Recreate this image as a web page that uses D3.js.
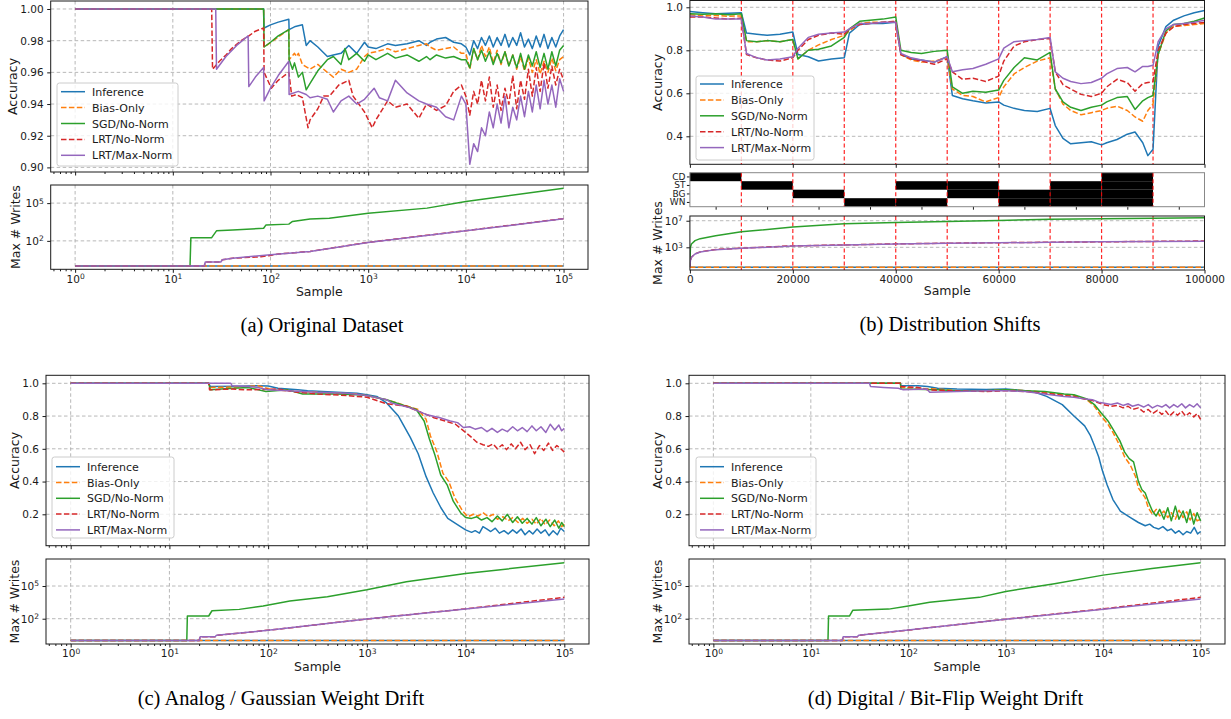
<!DOCTYPE html>
<html>
<head>
<meta charset="utf-8">
<script src="https://cdn.jsdelivr.net/npm/d3@7"></script>
<style>
  body { margin: 0; background: #fff; }
  svg { display: block; }
</style>
</head>
<body>
<script>
// ---- series definitions ----
const seriesNames = ["Inference", "Bias-Only", "SGD/No-Norm", "LRT/No-Norm", "LRT/Max-Norm"];
const seriesColors = ["#1f77b4", "#ff7f0e", "#2ca02c", "#d62728", "#9467bd"];
const seriesDash = [null, "5.5,2.4", null, "5.5,2.4", null];

// ---- (a) Original Dataset : accuracy [sample, acc] up to 10^4 ----
const aInference = [[1,1],[85,1],[86,0.988],[100,0.990],[120,0.9917],[154,0.9935],[155,0.987],[180,0.989],[212,0.990],[232,0.977],[254,0.980],[305,0.976],[382,0.970],[440,0.971],[527,0.972],[633,0.977],[762,0.972],[917,0.979],[1000,0.976],[1200,0.975],[1580,0.978],[1900,0.977],[2500,0.978],[3300,0.980],[3950,0.977],[4300,0.979],[5000,0.981],[6200,0.982],[7500,0.979],[9000,0.978]];
const aBias = [[1,1],[85,1],[86,0.976],[154,0.987],[155,0.968],[176,0.972],[184,0.970],[193,0.972],[212,0.965],[254,0.962],[305,0.965],[382,0.960],[440,0.957],[527,0.962],[633,0.960],[762,0.962],[917,0.970],[1000,0.972],[1200,0.973],[1580,0.975],[1900,0.973],[2500,0.975],[3300,0.977],[3950,0.978],[4300,0.976],[5000,0.974],[6200,0.975],[7500,0.976],[9000,0.972]];
const aSgd = [[1,1],[85,1],[86,0.976],[100,0.979],[120,0.983],[154,0.987],[155,0.968],[168,0.962],[176,0.966],[193,0.957],[212,0.960],[232,0.949],[254,0.953],[305,0.961],[382,0.968],[440,0.970],[527,0.965],[578,0.975],[633,0.968],[762,0.972],[917,0.967],[1000,0.971],[1200,0.968],[1580,0.972],[1900,0.969],[2500,0.971],[3300,0.967],[3950,0.970],[4300,0.968],[5000,0.971],[6200,0.969],[7500,0.970],[9000,0.968]];
const aLrtNo = [[1,1],[25,1],[25.5,0.962],[30,0.967],[35,0.971],[40,0.975],[50,0.980],[60,0.983],[70,0.986],[85,0.988],[86,0.960],[102,0.950],[120,0.955],[154,0.960],[165,0.945],[184,0.946],[212,0.944],[242,0.925],[254,0.930],[305,0.937],[350,0.945],[401,0.945],[500,0.952],[633,0.955],[700,0.945],[917,0.935],[1100,0.925],[1200,0.930],[1580,0.942],[1900,0.938],[2500,0.940],[3300,0.931],[3950,0.940],[5000,0.936],[6200,0.939],[7500,0.948],[9000,0.952]];
const aLrtMax = [[1,1],[27.5,1],[28,0.962],[35,0.970],[45,0.977],[59,0.983],[60,0.951],[70,0.957],[85,0.963],[86,0.942],[100,0.950],[120,0.958],[154,0.967],[155,0.946],[193,0.948],[232,0.946],[254,0.944],[305,0.945],[382,0.943],[440,0.935],[527,0.942],[633,0.945],[762,0.940],[917,0.943],[1150,0.950],[1300,0.944],[1580,0.942],[1900,0.955],[2500,0.947],[3300,0.942],[3950,0.940],[5000,0.938],[6200,0.932],[7500,0.930],[9000,0.945]];
// ---- (a) noisy tail, 10^4 .. 10^5 ----
const aTailX = [10000,10960,12020,13180,14450,15850,17380,19050,20890,22910,25120,27540,30200,33110,36310,39810,43650,47860,52480,57540,63100,69180,75860,83180,91200,100000];
const aInferenceTail = [0.976,0.971,0.980,0.975,0.982,0.977,0.983,0.976,0.982,0.977,0.984,0.976,0.982,0.977,0.985,0.976,0.981,0.975,0.983,0.976,0.984,0.975,0.982,0.976,0.983,0.987];
const aBiasTail = [0.972,0.962,0.975,0.968,0.977,0.970,0.976,0.966,0.974,0.965,0.973,0.964,0.971,0.962,0.970,0.961,0.969,0.960,0.968,0.959,0.967,0.960,0.969,0.961,0.968,0.970];
const aSgdTail = [0.968,0.963,0.975,0.968,0.974,0.967,0.973,0.965,0.972,0.966,0.973,0.964,0.971,0.963,0.972,0.962,0.971,0.964,0.973,0.963,0.972,0.962,0.973,0.964,0.974,0.977];
const aLrtNoTail = [0.945,0.933,0.948,0.940,0.955,0.942,0.957,0.938,0.952,0.936,0.950,0.940,0.958,0.937,0.955,0.943,0.962,0.945,0.963,0.948,0.966,0.950,0.964,0.952,0.962,0.955];
const aLrtMaxTail = [0.940,0.902,0.915,0.910,0.925,0.920,0.935,0.925,0.940,0.928,0.945,0.925,0.938,0.930,0.945,0.932,0.948,0.935,0.952,0.937,0.955,0.940,0.952,0.938,0.956,0.948];

// ---- (a) max # writes ----
const aWInference = [[1,1],[100000,1]];
const aWBias = [[1,1],[100000,1]];
const aWSgd = [[1,1],[15,1],[15.3,180],[25,180],[28,630],[41,740],[85,1000],[90,1860],[154,2140],[168,3470],[254,5400],[400,6300],[1000,15800],[4000,40000],[10000,135000],[100000,1550000]];
const aWLrtNo = [[1,1],[21,1],[21.5,2.1],[31,2.1],[32,3.1],[41,4.2],[80,5.5],[100,7.0],[120,9],[254,14.5],[1000,76],[10000,650],[100000,5800]];
const aWLrtMax = [[1,1],[21,1],[21.5,2.1],[31,2.1],[32,3.1],[41,4.2],[100,7.8],[254,14],[1000,74],[10000,630],[100000,5600]];

// ---- (b) Distribution Shifts : accuracy on a shared sample grid ----
const bX = [0,2500,5000,7500,10000,11000,13000,15000,17500,20000,21000,23000,25000,27500,30000,31000,33000,35000,37500,40000,41000,43000,45000,47500,50000,51000,53000,55000,57500,60000,61000,63000,65000,67500,70000,71000,72500,74000,76000,78000,80000,81000,83000,85000,86500,88000,89000,90000,91000,92500,94000,96000,98000,100000];
const bInference = [0.98,0.975,0.97,0.972,0.975, 0.88,0.875,0.87,0.875,0.885, 0.78,0.77,0.75,0.76,0.765, 0.88,0.92,0.925,0.925,0.93, 0.78,0.76,0.755,0.745,0.77, 0.59,0.575,0.565,0.555,0.56, 0.545,0.53,0.52,0.515,0.53, 0.45,0.39,0.365,0.37,0.375,0.36, 0.37,0.385,0.41,0.42,0.37,0.31,0.34, 0.82,0.91,0.94,0.96,0.975,0.985];
const bBias = [0.965,0.96,0.962,0.958,0.96, 0.84,0.84,0.845,0.84,0.85, 0.76,0.80,0.825,0.85,0.87, 0.89,0.925,0.93,0.93,0.935, 0.78,0.755,0.745,0.75,0.765, 0.62,0.59,0.585,0.56,0.58, 0.63,0.69,0.72,0.75,0.765, 0.62,0.55,0.52,0.50,0.51,0.52, 0.53,0.54,0.52,0.49,0.47,0.52,0.55, 0.78,0.88,0.91,0.915,0.92,0.925];
const bSgd = [0.97,0.968,0.97,0.965,0.97, 0.845,0.84,0.845,0.84,0.85, 0.76,0.80,0.805,0.82,0.86, 0.90,0.935,0.94,0.945,0.955, 0.80,0.79,0.785,0.795,0.80, 0.63,0.60,0.61,0.605,0.615, 0.66,0.72,0.765,0.755,0.79, 0.62,0.56,0.535,0.52,0.535,0.545, 0.56,0.58,0.585,0.525,0.565,0.58,0.59, 0.78,0.89,0.92,0.925,0.935,0.95];
const bLrtNo = [0.955,0.955,0.95,0.945,0.95, 0.78,0.765,0.755,0.75,0.765, 0.80,0.85,0.87,0.88,0.875, 0.90,0.92,0.925,0.93,0.935, 0.78,0.76,0.75,0.735,0.76, 0.70,0.665,0.67,0.655,0.68, 0.75,0.82,0.84,0.85,0.855, 0.70,0.64,0.62,0.595,0.585,0.60, 0.63,0.665,0.65,0.61,0.645,0.65,0.655, 0.80,0.88,0.91,0.92,0.925,0.93];
const bLrtMax = [0.96,0.955,0.945,0.945,0.945, 0.785,0.765,0.755,0.76,0.77, 0.81,0.86,0.875,0.88,0.885, 0.90,0.925,0.925,0.93,0.93, 0.785,0.765,0.755,0.745,0.77, 0.70,0.71,0.715,0.735,0.76, 0.81,0.84,0.845,0.85,0.86, 0.70,0.67,0.655,0.645,0.65,0.67, 0.69,0.715,0.72,0.70,0.725,0.725,0.73, 0.84,0.90,0.92,0.925,0.93,0.94];

// ---- (b) max # writes ----
const bWX = [0,100,300,1000,2000,5000,10000,20000,30000,40000,50000,60000,70000,80000,90000,100000];
const bWFlat = [[0,1],[100000,1]];
const bWSgd = [1,1000,3200,10000,20000,56000,220000,1100000,3500000,5600000,7900000,11000000,16000000,20000000,24000000,28000000];
const bWLrtNo = [1,10,32,105,210,470,730,1650,2300,3300,4100,4900,5800,6800,7800,8800];
const bWLrtMax = [1,10,32,100,200,450,700,1600,2200,3200,4000,4800,5600,6600,7600,8500];

// ---- (b) active distribution shifts per 10000-sample block ----
const shiftNames = ["CD", "ST", "BG", "WN"];
const shiftBlockStarts = [0,10000,20000,30000,40000,50000,60000,70000,80000,90000];
const shiftBlocks = [["CD"],["ST"],["BG"],["WN"],["ST","WN"],["ST","BG"],["BG","WN"],["ST","BG","WN"],["CD","ST","BG","WN"],[]];
const shiftChanges = [10000,20000,30000,40000,50000,60000,70000,80000,90000];

// ---- (c) Analog / Gaussian Weight Drift ----
const cInference = [[1,1],[25,1],[26,0.980],[50,0.982],[79,0.985],[100,0.983],[126,0.970],[200,0.960],[251,0.955],[501,0.945],[794,0.940],[1000,0.930],[1259,0.920],[1585,0.880],[2089,0.800],[2754,0.670],[3311,0.570],[3981,0.430],[4700,0.330],[5623,0.240],[6600,0.175],[7900,0.145],[10000,0.105],[11500,0.090],[12500,0.100],[13800,0.085],[15000,0.125],[16500,0.110],[18000,0.095],[20000,0.115],[22000,0.085],[24500,0.100],[27000,0.080],[30000,0.105],[33000,0.085],[36500,0.110],[40000,0.075],[44000,0.100],[48000,0.080],[53000,0.110],[58000,0.085],[64000,0.105],[70000,0.070],[77000,0.100],[85000,0.075],[92000,0.115],[100000,0.095]];
const cBias = [[1,1],[25,1],[26,0.975],[50,0.978],[79,0.985],[112,0.960],[200,0.950],[501,0.940],[794,0.935],[1000,0.925],[1585,0.900],[2291,0.870],[3311,0.840],[3981,0.780],[4400,0.680],[5129,0.580],[5900,0.450],[6761,0.400],[7800,0.300],[9333,0.220],[10500,0.185],[12000,0.200],[13500,0.190],[15000,0.210],[17000,0.185],[19000,0.200],[21000,0.170],[24000,0.185],[27000,0.160],[30000,0.180],[34000,0.150],[38000,0.175],[42000,0.145],[47000,0.170],[52000,0.140],[58000,0.175],[64000,0.135],[71000,0.165],[79000,0.130],[87000,0.160],[94000,0.125],[100000,0.140]];
const cSgd = [[1,1],[25,1],[26,0.960],[40,0.968],[63,0.975],[95,0.950],[158,0.960],[224,0.935],[501,0.935],[794,0.930],[1000,0.925],[1585,0.900],[2291,0.868],[3162,0.840],[3800,0.770],[4300,0.660],[4900,0.560],[5600,0.440],[6500,0.380],[7500,0.280],[8900,0.210],[10000,0.180],[11500,0.175],[13000,0.185],[14500,0.165],[16500,0.180],[18500,0.155],[21000,0.190],[23500,0.160],[26500,0.200],[30000,0.150],[33500,0.185],[37500,0.145],[42000,0.175],[47000,0.140],[52000,0.180],[58000,0.130],[65000,0.170],[72000,0.125],[80000,0.165],[88000,0.115],[94000,0.150],[100000,0.125]];
const cLrtNo = [[1,1],[25,1],[25.5,0.960],[43,0.965],[63,0.960],[126,0.965],[200,0.945],[316,0.935],[631,0.925],[1000,0.915],[1259,0.895],[1585,0.875],[2512,0.860],[3311,0.830],[4786,0.790],[6200,0.770],[7900,0.750],[10000,0.700],[11500,0.670],[13000,0.640],[15000,0.625],[17000,0.615],[19000,0.630],[21000,0.600],[23500,0.625],[26000,0.595],[29000,0.630],[32000,0.600],[36000,0.640],[40000,0.595],[45000,0.625],[50000,0.570],[56000,0.620],[62000,0.590],[69000,0.635],[76000,0.590],[84000,0.620],[92000,0.600],[100000,0.580]];
const cLrtMax = [[1,1],[42,1],[43,0.985],[63,0.980],[79,0.975],[100,0.960],[158,0.955],[316,0.945],[631,0.940],[1000,0.925],[1585,0.900],[1778,0.880],[2754,0.850],[3981,0.810],[5500,0.790],[7000,0.770],[8300,0.760],[9500,0.730],[11000,0.735],[12500,0.720],[14500,0.730],[16500,0.705],[18500,0.725],[21000,0.700],[23500,0.720],[26500,0.705],[30000,0.735],[33500,0.710],[37500,0.730],[42000,0.705],[47000,0.740],[52000,0.710],[58000,0.735],[65000,0.700],[72000,0.750],[80000,0.715],[88000,0.745],[94000,0.710],[100000,0.725]];
const cWFlat = [[1,1],[100000,1]];
const cWSgd = [[1,1],[15,1],[15.2,178],[25,178],[27,540],[51,720],[89,1480],[166,4200],[398,10500],[1000,45000],[2512,250000],[10000,1400000],[100000,14000000]];
const cWLrtNo = [[1,1],[20,1],[20.5,2.2],[29,2.2],[30,3],[105,9.1],[1000,95],[10000,800],[100000,9100]];
const cWLrtMax = [[1,1],[20,1],[20.5,2.2],[29,2.2],[30,3],[105,9],[1000,93],[10000,760],[100000,6300]];

// ---- (d) Digital / Bit-Flip Weight Drift ----
const dInference = [[1,1],[83,1],[84,0.985],[126,0.985],[158,0.980],[200,0.970],[316,0.965],[631,0.962],[1000,0.965],[1585,0.955],[2000,0.945],[2630,0.920],[3802,0.870],[5012,0.800],[6457,0.740],[7400,0.680],[8128,0.620],[9000,0.550],[9772,0.470],[10965,0.380],[12589,0.290],[15000,0.220],[19055,0.180],[23000,0.150],[27000,0.130],[30000,0.140],[33000,0.120],[37000,0.110],[41000,0.125],[45709,0.100],[50000,0.110],[55000,0.085],[60000,0.100],[66000,0.075],[72000,0.095],[79000,0.085],[86000,0.120],[93000,0.080],[100000,0.095]];
const dBias = [[1,1],[83,1],[84,0.975],[200,0.965],[316,0.955],[631,0.955],[1000,0.960],[1585,0.955],[2512,0.945],[3981,0.930],[5012,0.925],[6800,0.900],[8128,0.860],[9500,0.800],[11200,0.750],[12600,0.700],[14800,0.620],[16600,0.550],[19000,0.500],[21500,0.430],[23000,0.360],[25000,0.330],[27000,0.300],[29000,0.240],[32000,0.200],[35000,0.230],[38000,0.190],[42000,0.220],[46000,0.180],[50000,0.210],[55000,0.170],[60000,0.225],[66000,0.180],[72000,0.215],[78000,0.165],[85000,0.205],[92000,0.160],[100000,0.170]];
const dSgd = [[1,1],[83,1],[84,0.965],[200,0.960],[316,0.955],[631,0.955],[1000,0.960],[1585,0.955],[2512,0.950],[3981,0.935],[5012,0.930],[6800,0.905],[8128,0.870],[9500,0.820],[11200,0.770],[12600,0.720],[14800,0.650],[16600,0.580],[18500,0.540],[20500,0.520],[23000,0.400],[25000,0.350],[27000,0.330],[29000,0.280],[32000,0.220],[35000,0.190],[38000,0.230],[42000,0.170],[46000,0.240],[50000,0.160],[55000,0.250],[60000,0.170],[66000,0.220],[72000,0.150],[78000,0.230],[85000,0.140],[92000,0.210],[100000,0.160]];
const dLrtNo = [[1,1],[83,1],[84,0.980],[126,0.975],[158,0.960],[251,0.955],[631,0.950],[1000,0.955],[1585,0.950],[2512,0.940],[3981,0.925],[5012,0.920],[6300,0.905],[7762,0.895],[10000,0.870],[12000,0.860],[14000,0.865],[16000,0.850],[18000,0.860],[20000,0.840],[23000,0.850],[26000,0.825],[29000,0.840],[32000,0.815],[36000,0.835],[40000,0.810],[44000,0.830],[48000,0.800],[53000,0.825],[58000,0.805],[64000,0.830],[70000,0.800],[77000,0.820],[85000,0.795],[92000,0.815],[100000,0.780]];
const dLrtMax = [[1,1],[40,1],[41,0.980],[56,0.975],[79,0.970],[89,0.960],[155,0.965],[166,0.945],[316,0.950],[631,0.955],[1000,0.955],[1585,0.950],[2512,0.935],[3981,0.920],[5012,0.915],[6300,0.905],[7762,0.900],[9000,0.885],[10000,0.880],[12000,0.870],[14000,0.880],[16000,0.865],[18000,0.875],[20000,0.860],[23000,0.870],[26000,0.855],[29000,0.870],[32000,0.850],[36000,0.865],[40000,0.855],[44000,0.870],[48000,0.850],[53000,0.870],[58000,0.855],[64000,0.875],[70000,0.850],[77000,0.870],[85000,0.855],[92000,0.875],[100000,0.850]];
const dWFlat = [[1,1],[100000,1]];
const dWSgd = [[1,1],[15,1],[15.2,178],[25,178],[27,600],[63,760],[100,1500],[166,3200],[537,9100],[1000,32000],[3162,160000],[10000,1000000],[31623,4000000],[100000,14000000]];
const dWLrtNo = [[1,1],[21,1],[21.5,2.2],[30,2.2],[31,3],[100,9],[1000,90],[10000,800],[100000,9100]];
const dWLrtMax = [[1,1],[21,1],[21.5,2.2],[30,2.2],[31,3],[100,9],[1000,88],[10000,740],[100000,6300]];

// ---- tick values ----
const logMajors = [1, 10, 100, 1000, 10000, 100000];
const aAccTicks = [0.90, 0.92, 0.94, 0.96, 0.98, 1.00];
const bAccTicks = [0.4, 0.6, 0.8, 1.0];
const cdAccTicks = [0.2, 0.4, 0.6, 0.8, 1.0];
const logWriteTicks = [100, 100000];
const bWriteTicks = [1000, 10000000];
const bXTicks = [0, 20000, 40000, 60000, 80000, 100000];
const bStripTicks = [5000, 15000, 25000, 35000, 45000, 55000, 65000, 75000, 85000, 95000];

// ================= drawing =================
const FONT = "'DejaVu Sans', sans-serif";
const SERIF = "'Liberation Serif', 'Times New Roman', serif";
const GRID = "#b0b0b0";
const svg = d3.select("body").append("svg").attr("width", 1231).attr("height", 719);
const defs = svg.append("defs");
let clipCount = 0;

function clipRect(x0, y0, x1, y1) {
  const id = "clip" + (clipCount++);
  defs.append("clipPath").attr("id", id).append("rect")
    .attr("x", x0).attr("y", y0).attr("width", x1 - x0).attr("height", y1 - y0);
  return `url(#${id})`;
}

function frame(g, x0, y0, x1, y1, color) {
  g.append("rect").attr("x", x0).attr("y", y0).attr("width", x1 - x0).attr("height", y1 - y0)
    .attr("fill", "none").attr("stroke", color || "#1a1a1a").attr("stroke-width", 1);
}

function vGrid(g, xs, y0, y1) {
  xs.forEach(v => g.append("line").attr("x1", v).attr("x2", v).attr("y1", y0).attr("y2", y1)
    .attr("stroke", GRID).attr("stroke-width", 0.9).attr("stroke-dasharray", "3.5,2.5"));
}
function hGrid(g, ys, x0, x1) {
  ys.forEach(v => g.append("line").attr("x1", x0).attr("x2", x1).attr("y1", v).attr("y2", v)
    .attr("stroke", GRID).attr("stroke-width", 0.9).attr("stroke-dasharray", "3.5,2.5"));
}

function drawSeries(g, sets, x, y, clip) {
  const gl = g.append("g").attr("clip-path", clip);
  const line = d3.line().x(p => x(p[0])).y(p => y(p[1]));
  sets.forEach((d, i) => {
    gl.append("path").datum(d).attr("d", line)
      .attr("fill", "none").attr("stroke", seriesColors[i]).attr("stroke-width", 1.5)
      .attr("stroke-linejoin", "round").attr("stroke-dasharray", seriesDash[i]);
  });
}

function styleAxis(ax, size) {
  ax.select(".domain").remove();
  ax.attr("font-family", FONT).attr("font-size", size || 10.5);
  ax.selectAll(".tick line").attr("stroke", "#1a1a1a");
  ax.selectAll(".tick text").attr("fill", "#1a1a1a");
  return ax;
}

function powText(sel) {
  sel.each(function (d) {
    const t = d3.select(this);
    t.text(null);
    t.append("tspan").text("10");
    t.append("tspan").attr("dy", "-0.45em").attr("font-size", "0.72em").text(Math.round(Math.log10(d)));
  });
}

function bottomTicks(g, x, y, values, size, labels, fmt) {
  const ax = g.append("g").attr("transform", `translate(0,${y})`)
    .call(d3.axisBottom(x).tickValues(values).tickSize(size).tickSizeOuter(0).tickPadding(2.5)
      .tickFormat(labels ? (fmt || (() => "")) : () => ""));
  return styleAxis(ax);
}
function leftTicks(g, y, x0, values, fmt) {
  const ax = g.append("g").attr("transform", `translate(${x0},0)`)
    .call(d3.axisLeft(y).tickValues(values).tickSize(3.5).tickSizeOuter(0).tickPadding(3.5).tickFormat(fmt));
  return styleAxis(ax);
}

function yLabel(g, text, x, yc) {
  g.append("text").attr("transform", `translate(${x},${yc}) rotate(-90)`)
    .attr("text-anchor", "middle").attr("font-family", FONT).attr("font-size", 12.5)
    .attr("fill", "#1a1a1a").text(text);
}
function xLabel(g, text, xc, y) {
  g.append("text").attr("x", xc).attr("y", y).attr("text-anchor", "middle")
    .attr("font-family", FONT).attr("font-size", 12.5).attr("fill", "#1a1a1a").text(text);
}
function caption(text, xc, y) {
  svg.append("text").attr("x", xc).attr("y", y).attr("text-anchor", "middle")
    .attr("font-family", SERIF).attr("font-size", 20.5).attr("fill", "#000").text(text);
}

function legend(g, bx, by, bw, bh, firstY, step) {
  g.append("rect").attr("x", bx).attr("y", by).attr("width", bw).attr("height", bh).attr("rx", 2.5)
    .attr("fill", "#fff").attr("fill-opacity", 0.8).attr("stroke", "#cccccc").attr("stroke-width", 1);
  seriesNames.forEach((name, i) => {
    const yy = firstY + i * step;
    g.append("line").attr("x1", bx + 4).attr("x2", bx + 28).attr("y1", yy).attr("y2", yy)
      .attr("stroke", seriesColors[i]).attr("stroke-width", 1.5).attr("stroke-dasharray", seriesDash[i]);
    g.append("text").attr("x", bx + 35).attr("y", yy + 4).attr("font-family", FONT).attr("font-size", 11)
      .attr("fill", "#1a1a1a").text(name);
  });
}

function isPow10(v) { const l = Math.log10(v); return Math.abs(l - Math.round(l)) < 1e-9; }

// generic log-x panel (a, c, d)
function logPanel(p) {
  const g = svg.append("g");
  const x = d3.scaleLog().domain([Math.pow(10, -0.25), Math.pow(10, 5.25)]).range([p.x0, p.x1]);
  const minors = x.ticks().filter(v => !isPow10(v));
  const yA = d3.scaleLinear().domain(p.accDomain).range([p.acc[1], p.acc[0]]);
  const yW = d3.scaleLog().domain(p.wrDomain).range([p.wr[1], p.wr[0]]);

  // accuracy plot
  vGrid(g, logMajors.map(x), p.acc[0], p.acc[1]);
  hGrid(g, p.accTicks.map(yA), p.x0, p.x1);
  drawSeries(g, p.accData, x, yA, clipRect(p.x0, p.acc[0], p.x1, p.acc[1]));
  bottomTicks(g, x, p.acc[1], logMajors, 3.5, false);
  bottomTicks(g, x, p.acc[1], minors, 2, false);
  leftTicks(g, yA, p.x0, p.accTicks, d3.format(p.accFmt));
  legend(g, ...p.legend);
  frame(g, p.x0, p.acc[0], p.x1, p.acc[1]);
  yLabel(g, "Accuracy", p.labX[0], (p.acc[0] + p.acc[1]) / 2);

  // writes plot
  vGrid(g, logMajors.map(x), p.wr[0], p.wr[1]);
  hGrid(g, logWriteTicks.map(yW), p.x0, p.x1);
  drawSeries(g, p.wrData, x, yW, clipRect(p.x0, p.wr[0] - 1, p.x1, p.wr[1]));
  bottomTicks(g, x, p.wr[1], logMajors, 3.5, true, d => d).selectAll(".tick text").call(powText);
  bottomTicks(g, x, p.wr[1], minors, 2, false);
  leftTicks(g, yW, p.x0, logWriteTicks, d => d).selectAll(".tick text").call(powText);
  frame(g, p.x0, p.wr[0], p.x1, p.wr[1]);
  yLabel(g, "Max # Writes", p.labX[1], (p.wr[0] + p.wr[1]) / 2);
  xLabel(g, "Sample", (p.x0 + p.x1) / 2, p.wr[1] + 26.5);
  caption(p.caption, p.capX, p.capY);
}

const withTail = (head, tail) => head.concat(aTailX.map((v, i) => [v, tail[i]]));

// (a)
logPanel({
  x0: 50.7, x1: 588, acc: [1, 172], wr: [185, 269.3],
  accDomain: [0.8971, 1.00505], wrDomain: [Math.pow(10, -0.26), Math.pow(10, 6.44)],
  accTicks: aAccTicks, accFmt: ".2f",
  accData: [withTail(aInference, aInferenceTail), withTail(aBias, aBiasTail), withTail(aSgd, aSgdTail),
    withTail(aLrtNo, aLrtNoTail), withTail(aLrtMax, aLrtMaxTail)],
  wrData: [aWInference, aWBias, aWSgd, aWLrtNo, aWLrtMax],
  legend: [57, 83, 121, 83, 91.7, 15.9], labX: [17, 20],
  caption: "(a) Original Dataset", capX: 322, capY: 331.5
});
// (c)
logPanel({
  x0: 46, x1: 589, acc: [375.3, 545.7], wr: [559, 644],
  accDomain: [0.0083, 1.0489], wrDomain: [Math.pow(10, -0.32), Math.pow(10, 7.48)],
  accTicks: cdAccTicks, accFmt: ".1f",
  accData: [cInference, cBias, cSgd, cLrtNo, cLrtMax],
  wrData: [cWFlat, cWFlat, cWSgd, cWLrtNo, cWLrtMax],
  legend: [52, 457, 122, 81, 466.7, 15.8], labX: [19, 19],
  caption: "(c) Analog / Gaussian Weight Drift", capX: 281, capY: 704.5
});
// (d)
logPanel({
  x0: 689, x1: 1225, acc: [375.3, 545.7], wr: [559, 644],
  accDomain: [0.0083, 1.0489], wrDomain: [Math.pow(10, -0.32), Math.pow(10, 7.48)],
  accTicks: cdAccTicks, accFmt: ".1f",
  accData: [dInference, dBias, dSgd, dLrtNo, dLrtMax],
  wrData: [dWFlat, dWFlat, dWSgd, dWLrtNo, dWLrtMax],
  legend: [696, 457, 120, 81, 466.7, 15.8], labX: [661.5, 662],
  caption: "(d) Digital / Bit-Flip Weight Drift", capX: 945.5, capY: 704.5
});

// (b) Distribution shifts: linear x, three stacked plots
(function () {
  const g = svg.append("g");
  const x0 = 689.9, x1 = 1204.5;
  const acc = [0.5, 164.3], strip = [172.7, 206.7], wr = [216, 270];
  const x = d3.scaleLinear().domain([0, 100000]).range([x0, x1]);
  const yA = d3.scaleLinear().domain([0.2698, 1.0316]).range([acc[1], acc[0]]);
  const yS = d3.scaleBand().domain(shiftNames).range([strip[0], strip[1]]);
  const yW = d3.scaleLog().domain([Math.pow(10, -0.41), Math.pow(10, 7.71)]).range([wr[1], wr[0]]);
  const redLines = (ya, yb) => shiftChanges.forEach(v => g.append("line")
    .attr("x1", x(v)).attr("x2", x(v)).attr("y1", ya).attr("y2", yb)
    .attr("stroke", "#ff0000").attr("stroke-opacity", 0.85).attr("stroke-width", 1.2)
    .attr("stroke-dasharray", "4,2.5"));

  // accuracy
  hGrid(g, bAccTicks.map(yA), x0, x1);
  redLines(acc[0], acc[1]);
  const accSets = [bInference, bBias, bSgd, bLrtNo, bLrtMax].map(vals => bX.map((v, i) => [v, vals[i]]));
  drawSeries(g, accSets, x, yA, clipRect(x0, acc[0], x1, acc[1]));
  bottomTicks(g, x, acc[1], bXTicks, 3.5, false);
  leftTicks(g, yA, x0, bAccTicks, d3.format(".1f"));
  legend(g, 696, 76, 118, 84, 84, 15.9);
  frame(g, x0, acc[0], x1, acc[1]);
  yLabel(g, "Accuracy", 662, (acc[0] + acc[1]) / 2);

  // shift strip
  shiftBlocks.forEach((names, k) => names.forEach(n => {
    g.append("rect").attr("x", x(shiftBlockStarts[k])).attr("y", yS(n))
      .attr("width", x(shiftBlockStarts[k] + 10000) - x(shiftBlockStarts[k])).attr("height", yS.bandwidth())
      .attr("fill", "#000");
  }));
  redLines(strip[0], strip[1]);
  bottomTicks(g, x, strip[1], bStripTicks, 3, false);
  const sAx = g.append("g").attr("transform", `translate(${x0},0)`)
    .call(d3.axisLeft(yS).tickSize(3).tickSizeOuter(0).tickPadding(1.5));
  styleAxis(sAx, 9);
  frame(g, x0, strip[0], x1, strip[1], "#888");

  // writes
  hGrid(g, bWriteTicks.map(yW), x0, x1);
  redLines(wr[0], wr[1]);
  const wrSets = [bWFlat, bWFlat, bWX.map((v, i) => [v, bWSgd[i]]),
    bWX.map((v, i) => [v, bWLrtNo[i]]), bWX.map((v, i) => [v, bWLrtMax[i]])];
  drawSeries(g, wrSets, x, yW, clipRect(x0, wr[0], x1, wr[1]));
  bottomTicks(g, x, wr[1], bXTicks, 3.5, true, d3.format("d"));
  leftTicks(g, yW, x0, bWriteTicks, d => d).selectAll(".tick text").call(powText);
  frame(g, x0, wr[0], x1, wr[1]);
  yLabel(g, "Max # Writes", 662, (wr[0] + wr[1]) / 2);
  xLabel(g, "Sample", (x0 + x1) / 2, wr[1] + 25);
  caption("(b) Distribution Shifts", 950, 331);
})();
</script>
</body>
</html>
